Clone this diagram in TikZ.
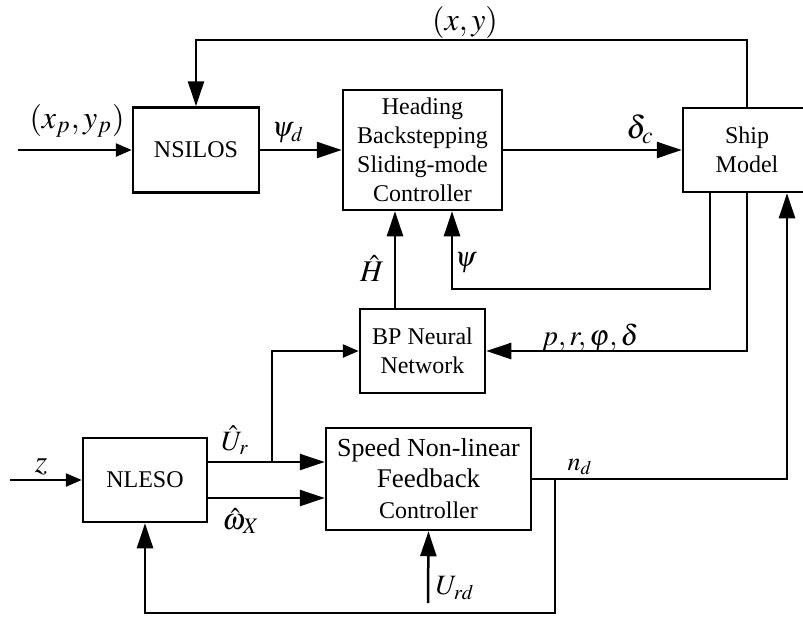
\documentclass[tikz,border=0pt]{standalone}
\usepackage{mathptmx}
\usepackage[no-math]{fontspec}
\setmainfont{Liberation Serif}
\newfontfamily\blkfont{Liberation Serif}
\usetikzlibrary{arrows.meta}

\begin{document}
\begin{tikzpicture}[x=0.5pt,y=-0.5pt,
    blk/.style={draw,line width=1.25pt,align=center,inner sep=0pt,font=\blkfont\fontsize{12}{14.5}\selectfont},
    sig/.style={line width=1.25pt,-{Triangle[length=12.5pt,width=8pt]}},
    sigs/.style={line width=1.25pt,-{Triangle[length=8pt,width=6.5pt]}},
    lbl/.style={inner sep=0pt,font=\fontsize{14}{14}\selectfont},
    biglbl/.style={inner sep=0pt,font=\fontsize{16}{16}\selectfont}]

      \useasboundingbox (0,0) rectangle (803,617);

      \begin{scope}[every node/.style={blk}]
        \node[minimum width=63pt,minimum height=42.5pt] (nsilos)  at (196,150) {NSILOS};
        \node[minimum width=79.5pt,minimum height=60pt] (heading) at (422.5,150) {Heading\\Backstepping\\Sliding-mode\\Controller};
        \node[minimum width=64pt,minimum height=42pt]   (ship)    at (747,150) {Ship\\Model};
        \node[minimum width=62.5pt,minimum height=42pt] (bp)      at (422.5,351) {BP Neural\\Network};
        \node[minimum width=62pt,minimum height=42pt]   (nleso)   at (145,480) {NLESO};
        \node[minimum width=102.5pt,minimum height=51pt] (speed)  at (428.5,479)
          {{\fontsize{13}{13}\selectfont Speed Non-linear}\\[1pt]{\fontsize{13.5}{13.5}\selectfont Feedback}\\[1pt]Controller};
      \end{scope}

      \coordinate (xpin)  at (18,150);
      \coordinate (zin)   at (10,480);
      \coordinate (urdin) at (428,603);
      \coordinate (psijoin) at (452,289);
      \coordinate (urbr)  at (272,462);
      \coordinate (ndfb)  at (555,480);

      \begin{scope}[every node/.style={lbl}]
        \node[biglbl] (xplbl)  at (77,121)  {$(x_p,y_p)$};
        \node (psidlbl) at (288,133) {$\psi_d$};
        \node[biglbl] (dclbl)  at (640,129) {$\delta_c$};
        \node[biglbl] (xylbl)  at (465,22)  {$(x,y)$};
        \node[font=\fontsize{15}{15}\selectfont] (hlbl) at (372,268) {$\hat{H}$};
        \node (psilbl)  at (466,263) {$\psi$};
        \node[font=\fontsize{14.5}{14.5}\selectfont] (prlbl) at (590,338) {$p,r,\varphi,\delta$};
        \node (urlbl)   at (235,440) {$\hat{U}_r$};
        \node[font=\fontsize{15}{15}\selectfont] (wxlbl) at (241,521) {$\hat{\omega}_X$};
        \node[biglbl] (zlbl) at (41,467) {$z$};
        \node[font=\fontsize{13}{13}\selectfont] (ndlbl) at (580,467) {$n_d$};
        \node (urdlbl)  at (455,588) {$U_{rd}$};
      \end{scope}

      \draw[sigs] (xpin) -- (nsilos.west);
      \draw[sig] (nsilos.east) -- (heading.west);
      \draw[sig] (heading.east) -- (ship.west);
      \draw[sig] (ship.north) -- ++(0,-67) -| (nsilos.north);
      \draw[sig] ([xshift=-18.5pt]ship.south) |- (psijoin) -- (psijoin |- heading.south);
      \draw[sig] (ship.south) |- (bp.east);
      \draw[sig] ([xshift=-13.75pt]bp.north) -- ([xshift=-13.75pt]heading.south);

      \draw[sigs] (zin) -- (nleso.west);
      \draw[sig] ([yshift=9pt]nleso.east) -- ([yshift=9pt]nleso.east -| speed.west);
      \draw[sig] ([yshift=-9pt]nleso.east) -- ([yshift=-9pt]nleso.east -| speed.west);
      \draw[sigs] (urbr) |- (bp.west);
      \draw[sig] (urdin) -- (speed.south);
      \draw[sig] (speed.east) -| ([xshift=20pt]ship.south);
      \draw[sig] (ndfb) -- ++(0,133) -| (nleso.south);

    \end{tikzpicture}
\end{document}
